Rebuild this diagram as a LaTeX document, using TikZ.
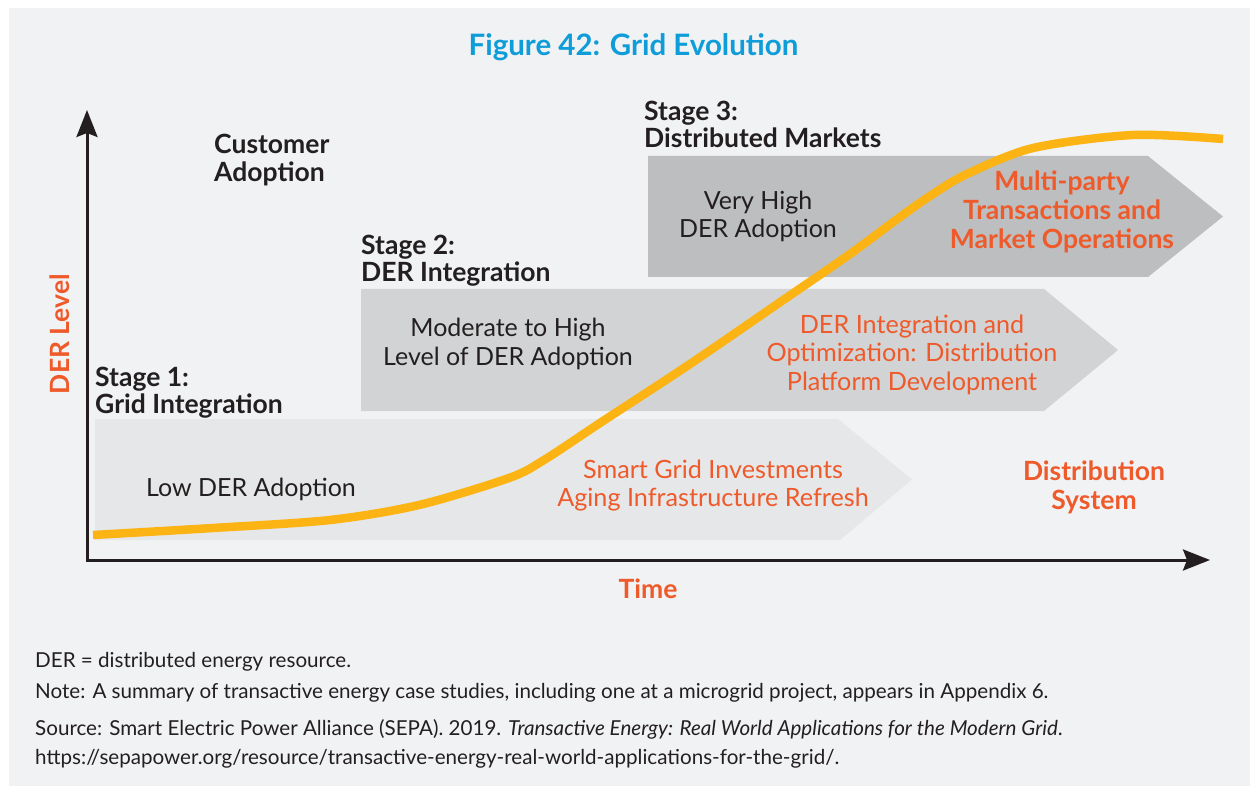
\documentclass[tikz,border=0pt]{standalone}
\usepackage{fontspec}
\setmainfont{Lato}
\usetikzlibrary{arrows.meta,positioning}

\definecolor{bgGray}{HTML}{F1F2F4}
\definecolor{stageOne}{HTML}{E6E7E8}
\definecolor{stageTwo}{HTML}{D1D3D4}
\definecolor{stageThree}{HTML}{BCBEC0}
\definecolor{inkDark}{HTML}{231F20}
\definecolor{accentOrange}{HTML}{EF5A2B}
\definecolor{curveYellow}{HTML}{FCB415}
\definecolor{titleBlue}{HTML}{0E9DD9}

\begin{document}
\begin{tikzpicture}[x=1pt,y=-1pt]
	\tikzset{>={Stealth[length=27pt,width=21pt,inset=4pt]}}
	\tikzset{
		plain/.style={font=\fontsize{25}{28.5}\selectfont, text=inkDark, align=center, inner sep=0pt},
		heading/.style={font=\bfseries\fontsize{26.5}{27.5}\selectfont, text=inkDark, align=left, inner sep=0pt},
		accent/.style={plain, text=accentOrange, font=\fontsize{25.2}{28.5}\selectfont},
		accentbold/.style={accent, font=\bfseries\fontsize{26.5}{29}\selectfont},
		axislabel/.style={font=\bfseries\fontsize{26.5}{28}\selectfont, text=accentOrange, inner sep=0pt},
		footnote/.style={font=\fontsize{20.6}{22}\selectfont, text=inkDark, anchor=base west, inner sep=0pt}
	}
	\useasboundingbox (0,0) rectangle (1250,786);
	\fill[white] (0,0) rectangle (1250,786);
	\fill[bgGray] (9,8) rectangle (1250,786);

	\node[font=\bfseries\fontsize{29.5}{32}\selectfont, text=titleBlue, inner sep=0pt] (title) at (633.5,47) {Figure 42: Grid Evolution};

	% stage arrows
	\fill[stageOne] (95,419) -- (838,419) -- (912,479.5) -- (840,540) -- (95,540) -- cycle;
	\fill[stageTwo] (361,289) -- (1044,289) -- (1118,350) -- (1044,411) -- (361,411) -- cycle;
	\fill[stageThree] (648,156) -- (1148,156) -- (1223,216.5) -- (1148,277) -- (648,277) -- cycle;

	% axes
	\pgfmathsetmacro{\ox}{87}
	\pgfmathsetmacro{\oy}{560}
	\coordinate (O) at (\ox,\oy);
	\coordinate (Ytop) at (\ox,110);
	\coordinate (Xend) at (1210,\oy);
	\draw[<->, line width=3pt, color=inkDark] (Ytop)--(O)--(Xend);

	\node[axislabel, rotate=90] (yLabel) at (60,334) {DER Level};
	\node[axislabel] (xLabel) at (648,589) {Time};

	% adoption curve
	\draw[curveYellow, line width=8.5pt] plot[smooth, tension=0.5] coordinates {
		(93,535) (213,528) (330,520) (419,505) (509,478) (544,460) (603,421) (687,366)
		(776,305) (850,254) (900,217) (933,194) (967,174) (1033,148) (1133,135) (1223,139)};

	% headings
	\node[heading, anchor=west] (customer) at (214,160) {Customer\\Adoption};
	\node[heading, anchor=west] (stageA) at (95,392.5) {Stage 1:\\Grid Integration};
	\node[heading, anchor=west] (stageB) at (361,260.5) {Stage 2:\\DER Integration};
	\node[heading, anchor=west] (stageC) at (644,124.5) {Stage 3:\\Distributed Markets};

	% texts inside the arrows
	\node[plain] (lowDER) at (251,489) {Low DER Adoption};
	\node[accent] (smartGrid) at (713,485.5) {Smart Grid Investments\\Aging Infrastructure Refresh};
	\node[plain] (modDER) at (508,344) {Moderate to High\\Level of DER Adoption};
	\node[accent] (integration) at (912,354.5) {DER Integration and\\Optimization: Distribution\\Platform Development};
	\node[plain] (highDER) at (758,216.5) {Very High\\DER Adoption};
	\node[accentbold] (markets) at (1062,212) {Multi-party\\Transactions and\\Market Operations};
	\node[accentbold] (distSystem) at (1094,487.5) {Distribution\\System};

	% notes
	\node[footnote] (noteDER) at (35,667) {DER = distributed energy resource.};
	\node[footnote] (noteCase) at (35,698) {Note: A summary of transactive energy case studies, including one at a microgrid project, appears in Appendix 6.};
	\node[footnote] (noteSource) at (35,735) {Source: Smart Electric Power Alliance (SEPA). 2019. \textit{Transactive Energy: Real World Applications for the Modern Grid}.};
	\node[footnote] (noteURL) at (35,764) {https://sepapower.org/resource/transactive-energy-real-world-applications-for-the-grid/.};
\end{tikzpicture}
\end{document}
